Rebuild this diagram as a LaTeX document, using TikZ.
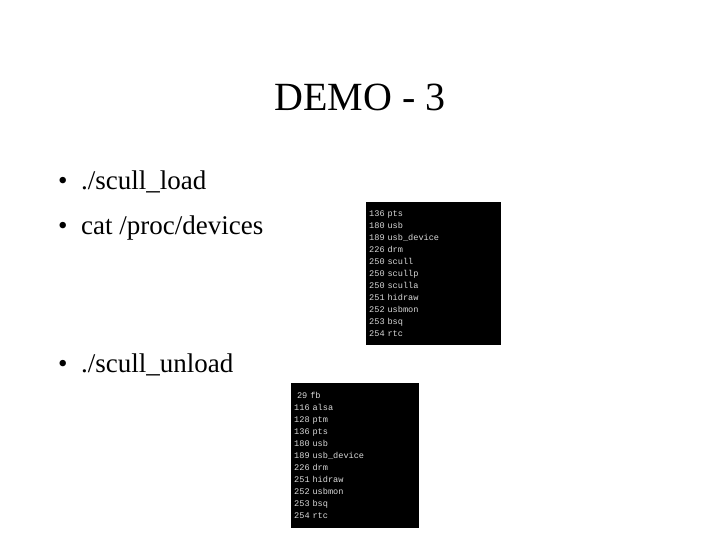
\documentclass[tikz,border=0pt]{standalone}
\usepackage{fontspec}
\setmainfont{Liberation Serif}
\newfontfamily\termfont{Liberation Mono}
\begin{document}
\begin{tikzpicture}[x=1pt,y=-1pt,
  bul/.style={anchor=west,font=\fontsize{27}{30}\selectfont,inner sep=0},
  term/.style={anchor=north west,fill=black,text=white!85!black,align=left,font=\termfont\fontsize{8.6}{12}\selectfont,inner xsep=3pt,inner ysep=3pt}]
\useasboundingbox (0,0) rectangle (720,540);
\node[font=\fontsize{40}{44}\selectfont] (title) at (360,97) {DEMO - 3};
\node[bul] (b1) at (58,182) {\textbullet\ \ ./scull\_load};
\node[bul] (b2) at (58,228) {\textbullet\ \ cat /proc/devices};
\node[bul] (b3) at (58,365) {\textbullet\ \ ./scull\_unload};
\node[term,minimum width=135pt,minimum height=143pt,text width=129pt] (t1) at (366,202) {136 pts\\180 usb\\189 usb\_device\\226 drm\\250 scull\\250 scullp\\250 sculla\\251 hidraw\\252 usbmon\\253 bsq\\254 rtc\\[8pt]};
\node[term,minimum width=128pt,minimum height=145pt,text width=122pt] (t2) at (291,383) {\ 29 fb\\116 alsa\\128 ptm\\136 pts\\180 usb\\189 usb\_device\\226 drm\\251 hidraw\\252 usbmon\\253 bsq\\254 rtc\\[8pt]};
\end{tikzpicture}
\end{document}
